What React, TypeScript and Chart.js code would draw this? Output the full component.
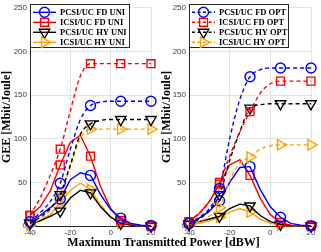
import React, { useEffect, useRef } from 'react';
import { Chart, registerables } from 'chart.js';

Chart.register(...registerables);

// ---------- data ----------
const powers = [-40, -35, -30, -25, -20, -15, -10, -5, 0, 5, 10, 15, 20];
const yTickStep = 50;
const xTickStep = 20;

const uniLabels = ['PCSI/UC FD UNI', 'ICSI/UC FD UNI', 'PCSI/UC HY UNI', 'ICSI/UC HY UNI'];
const optLabels = ['PCSI/UC FD OPT', 'ICSI/UC FD OPT', 'PCSI/UC HY OPT', 'ICSI/UC HY OPT'];

// left panel (UNI) — solid curves
const uniPcsiFdSolid = [5, 12, 21, 31, 53, 61, 58, 36, 19, 9, 3, 1, 0.5];
const uniIcsiFdSolid = [12, 22, 40, 70, 96, 104, 80, 45, 20, 6, 2, 0.5, 0];
const uniPcsiHySolid = [3, 6, 11, 17, 32, 41, 38, 22, 10, 3, 1, 0.3, 0];
const uniIcsiHySolid = [1, 6, 13, 26, 41, 49, 42, 24, 11, 3, 1, 0.3, 0];
// left panel (UNI) — dashed curves
const uniPcsiFdDash = [5, 15, 28, 49, 88, 122, 138, 142, 143, 143, 143, 143, 143];
const uniIcsiFdDash = [12, 32, 58, 88, 132, 172, 186, 186, 186, 186, 186, 186, 186];
const uniPcsiHyDash = [3, 10, 20, 36, 70, 105, 117, 121, 122, 122, 122, 122, 122];
const uniIcsiHyDash = [1, 8, 18, 38, 68, 100, 111, 111, 111, 111, 111, 111, 111];

// right panel (OPT) — solid curves
const optPcsiFdSolid = [3, 9, 17, 29, 50, 67, 68, 42, 22, 10, 3, 1, 0.3];
const optIcsiFdSolid = [5, 14, 28, 48, 70, 76, 58, 32, 13, 4, 1, 0.3, 0];
const optPcsiHySolid = [2, 5, 8, 11, 20, 25, 23, 12, 5, 2, 0.5, 0.2, 0];
const optIcsiHySolid = [1, 3, 6, 10, 16, 20, 16, 8, 3, 1, 0.3, 0, 0];
// right panel (OPT) — dashed curves
const optPcsiFdDash = [3, 10, 20, 43, 100, 145, 171, 179, 181, 181, 181, 181, 181];
const optIcsiFdDash = [5, 15, 28, 50, 80, 108, 131, 152, 163, 166, 166, 166, 166];
const optPcsiHyDash = [2, 8, 18, 36, 75, 108, 135, 139, 140, 140, 140, 140, 140];
const optIcsiHyDash = [1, 5, 11, 21, 52, 72, 79, 88, 92, 93, 93, 93, 93];

// ---------- styles ----------
const BLUE = '#0000ff';
const RED = '#ff0000';
const BLACK = '#000000';
const ORANGE = '#ffa000';

type Marker = { style: string; r: number; rot: number };
const M_CIRCLE: Marker = { style: 'circle', r: 5, rot: 0 };
const M_SQUARE: Marker = { style: 'rect', r: 5.6, rot: 0 };
const M_TDOWN: Marker = { style: 'triangle', r: 6, rot: 180 };
const M_TRIGHT: Marker = { style: 'triangle', r: 6, rot: 90 };

const seriesStyles = [
  { color: BLUE, marker: M_CIRCLE },
  { color: RED, marker: M_SQUARE },
  { color: BLACK, marker: M_TDOWN },
  { color: ORANGE, marker: M_TRIGHT },
];

function drawMarker(ctx: CanvasRenderingContext2D, m: Marker, x: number, y: number) {
  ctx.beginPath();
  if (m.style === 'circle') {
    ctx.arc(x, y, m.r, 0, Math.PI * 2);
  } else if (m.style === 'rect') {
    const s = m.r * Math.SQRT1_2;
    ctx.rect(x - s, y - s, 2 * s, 2 * s);
  } else {
    let rad = (m.rot * Math.PI) / 180;
    ctx.moveTo(x + Math.sin(rad) * m.r, y - Math.cos(rad) * m.r);
    rad += (2 * Math.PI) / 3;
    ctx.lineTo(x + Math.sin(rad) * m.r, y - Math.cos(rad) * m.r);
    rad += (2 * Math.PI) / 3;
    ctx.lineTo(x + Math.sin(rad) * m.r, y - Math.cos(rad) * m.r);
    ctx.closePath();
  }
  ctx.stroke();
}

const boxLegend = {
  id: 'boxLegend',
  afterDatasetsDraw(chart: any, _args: any, opts: any) {
    const { ctx, chartArea } = chart;
    const x0 = chartArea.left;
    const y0 = 4;
    const w = 100;
    const h = 44;
    ctx.save();
    ctx.fillStyle = '#ffffff';
    ctx.fillRect(x0, y0, w, h);
    ctx.strokeStyle = '#262626';
    ctx.lineWidth = 1;
    ctx.setLineDash([]);
    ctx.strokeRect(x0 + 0.5, y0 + 0.5, w - 1, h - 1);
    (opts.labels as string[]).forEach((label, i) => {
      const st = seriesStyles[i];
      const y = y0 + 8.3 + i * 10;
      ctx.strokeStyle = st.color;
      ctx.lineWidth = 1.4;
      ctx.setLineDash(opts.dashed ? [3, 2.5] : []);
      ctx.beginPath();
      ctx.moveTo(x0 + 3, y);
      ctx.lineTo(x0 + 26, y);
      ctx.stroke();
      ctx.setLineDash([]);
      drawMarker(ctx, st.marker, x0 + 14.5, y);
      ctx.fillStyle = '#000000';
      ctx.font = 'bold 8.5px "Liberation Serif", "Times New Roman", serif';
      ctx.textBaseline = 'middle';
      ctx.textAlign = 'left';
      ctx.fillText(label, x0 + 30, y + 0.5);
    });
    ctx.restore();
  },
};

function makeDataset(values: number[], idx: number, dashed: boolean) {
  const st = seriesStyles[idx];
  return {
    data: powers.map((p, i) => ({ x: p, y: values[i] })),
    borderColor: st.color,
    borderWidth: 1.4,
    borderDash: dashed ? [4, 3] : [],
    pointStyle: st.marker.style,
    pointRotation: st.marker.rot,
    pointRadius: (c: any) => (c.dataIndex % 3 === 0 ? st.marker.r : 0),
    pointHoverRadius: 0,
    pointBorderColor: st.color,
    pointBackgroundColor: 'rgba(0,0,0,0)',
    pointBorderWidth: 1.4,
    tension: 0,
    cubicInterpolationMode: dashed ? 'monotone' : 'default',
    fill: false,
    clip: false,
  };
}

function buildConfig(solid: number[][], dashed: number[][], labels: string[], legendDashed: boolean, axisWidth: number, rightPad: number) {
  const datasets: any[] = [];
  dashed.forEach((v, i) => datasets.push(makeDataset(v, i, true)));
  solid.forEach((v, i) => datasets.push(makeDataset(v, i, false)));
  const tickFont = { family: '"Liberation Sans", Arial, Helvetica, sans-serif', size: 8 };
  return {
    type: 'line',
    data: { datasets },
    plugins: [boxLegend],
    options: {
      responsive: false,
      animation: false,
      events: [],
      layout: { padding: { top: 5, left: 0, right: rightPad, bottom: 0 } },
      plugins: {
        legend: { display: false },
        tooltip: { enabled: false },
        boxLegend: { labels, dashed: legendDashed },
      },
      scales: {
        x: {
          type: 'linear',
          min: -40,
          max: 20,
          ticks: { stepSize: xTickStep, font: tickFont, color: '#3a3a3a', padding: 2, maxRotation: 0, autoSkip: false },
          grid: { color: '#e4e4e4', drawTicks: false, lineWidth: 1 },
          border: { color: '#262626', width: 1 },
          afterFit: (s: any) => { s.height = 26; },
        },
        y: {
          type: 'linear',
          min: 0,
          max: 250,
          ticks: { stepSize: yTickStep, font: tickFont, color: '#3a3a3a', padding: 3 },
          grid: { color: '#e4e4e4', drawTicks: false, lineWidth: 1 },
          border: { color: '#262626', width: 1 },
          title: {
            display: true,
            text: 'GEE [Mbit/Joule]',
            color: '#000000',
            font: { family: '"Liberation Serif", "Times New Roman", serif', size: 12, weight: 'bold' },
            padding: { top: 0, bottom: 0 },
          },
          afterFit: (s: any) => { s.width = axisWidth; },
        },
      },
    },
  };
}

function Panel(props: { left: number; width: number; config: any }) {
  const ref = useRef<HTMLCanvasElement | null>(null);
  useEffect(() => {
    if (!ref.current) return;
    const chart = new Chart(ref.current, props.config);
    return () => chart.destroy();
  }, []);
  return (
    <canvas
      ref={ref}
      width={props.width}
      height={252}
      style={{ position: 'absolute', left: props.left, top: 0, width: props.width, height: 252 }}
    />
  );
}

export default function App() {
  const leftCfg = buildConfig(
    [uniPcsiFdSolid, uniIcsiFdSolid, uniPcsiHySolid, uniIcsiHySolid],
    [uniPcsiFdDash, uniIcsiFdDash, uniPcsiHyDash, uniIcsiHyDash],
    uniLabels, false, 30, 9
  );
  const rightCfg = buildConfig(
    [optPcsiFdSolid, optIcsiFdSolid, optPcsiHySolid, optIcsiHySolid],
    [optPcsiFdDash, optIcsiFdDash, optPcsiHyDash, optIcsiHyDash],
    optLabels, true, 29, 10
  );
  return (
    <div style={{ position: 'fixed', left: 0, top: 0, width: 321, height: 252, background: '#ffffff', overflow: 'hidden' }}>
      <Panel left={0} width={160} config={leftCfg} />
      <Panel left={160} width={161} config={rightCfg} />
      <div
        style={{
          position: 'absolute',
          left: 0,
          top: 235,
          width: 327,
          textAlign: 'center',
          font: 'bold 12px "Liberation Serif", "Times New Roman", serif',
          color: '#000000',
          lineHeight: '14px',
        }}
      >
        Maximum Transmitted Power [dBW]
      </div>
    </div>
  );
}
